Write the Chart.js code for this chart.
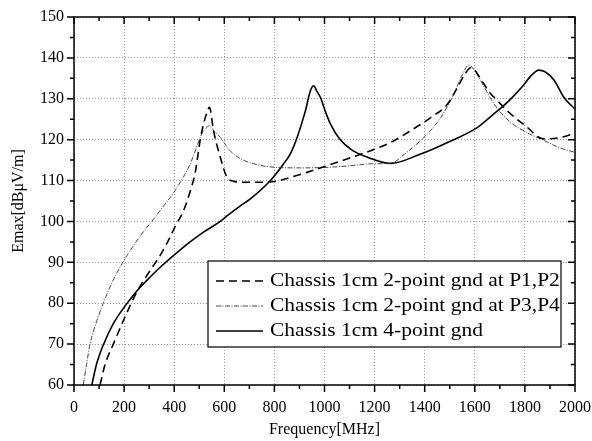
<!DOCTYPE html>
<html>
<head>
<meta charset="utf-8">
<script src="https://cdn.jsdelivr.net/npm/chart.js@4/dist/chart.umd.min.js"></script>
<style>
html,body{margin:0;padding:0;background:#fff;}
#wrap{width:592px;height:441px;position:relative;}
</style>
</head>
<body>
<div id="wrap"><canvas id="c" width="592" height="441"></canvas></div>
<script>
// ---- data ----
const seriesLabels = [
  "Chassis 1cm 2-point gnd at P1,P2",
  "Chassis 1cm 2-point gnd at P3,P4",
  "Chassis 1cm 4-point gnd"
];
const freqP12 = [104,124,157,204,251,304,344,384,404,437,464,484,504,517,530,541,557,584,611,640,664,757,820,864,930,1004,1100,1184,1264,1344,1424,1491,1531,1560,1584,1600,1624,1660,1691,1736,1800,1876,1940,2000];
const emaxP12 = [60,65,70,76.7,82.8,88,91.7,96.2,98.8,102.6,107.4,112,120,123.8,126.5,127.9,122.2,115.7,110.8,109.8,109.6,109.6,110,110.8,112,113.5,115.5,117.3,119.3,122.2,125.4,128.7,132.8,136,137.6,137,134.8,131.5,129.5,126.7,123.5,120.2,120.5,121.6];
const freqP34 = [37,50,64,90,117,150,197,271,304,354,404,464,511,530,541,560,584,617,660,718,811,904,1000,1100,1191,1264,1320,1384,1424,1464,1516,1551,1577,1600,1624,1676,1736,1800,1876,1940,2000];
const emaxP34 = [60,65,70,75.5,80,84.8,90.2,97,99.5,103.5,107.6,114.1,121.5,123,123.4,122,120.6,117.7,115.5,114.1,113.2,113.1,113.2,113.6,114.1,114.2,116.5,119.8,122.3,125.4,131.1,136,138.3,136.8,134.4,128.8,124.6,122,119.8,118,116.9];
const freq4pt = [71,91,117,157,211,251,291,344,417,470,520,584,612,664,704,784,837,864,891,924,944,957,970,984,1004,1024,1060,1104,1172,1264,1384,1476,1611,1676,1736,1790,1824,1856,1880,1916,1956,2000];
const emax4pt = [60,65.3,69.8,75,79.9,83,85.6,88.8,92.7,95.3,97.5,100,101.4,103.8,105.5,110,114.1,116.6,120.6,127.1,132,133.2,131.8,130.3,126.8,123.8,120.2,117.7,115.7,114.2,116.5,118.9,123,126.3,129.5,133,135.6,137,136.6,134.6,130.3,127.5];
const xTicks = [0,200,400,600,800,1000,1200,1400,1600,1800,2000];
const yTicks = [60,70,80,90,100,110,120,130,140,150];

const toPts = (xs, ys) => xs.map((x, i) => ({x: x, y: ys[i]}));
const FONT = "'Liberation Serif', 'DejaVu Serif', serif";

const frameTicks = {
  id: 'frameTicks',
  afterDatasetsDraw(chart) {
    const {ctx, chartArea: a, scales} = chart;
    const xs = scales.x, ys = scales.y;
    ctx.save();
    ctx.strokeStyle = '#000';
    ctx.lineWidth = 1.5;
    ctx.setLineDash([]);
    ctx.strokeRect(a.left, a.top, a.right - a.left, a.bottom - a.top);
    ctx.beginPath();
    for (let v = xs.min; v <= xs.max; v += 100) {
      const p = xs.getPixelForValue(v);
      const len = (v % 200 === 0) ? 7 : 4;
      ctx.moveTo(p, a.bottom); ctx.lineTo(p, a.bottom + len);
      ctx.moveTo(p, a.top); ctx.lineTo(p, a.top + len);
    }
    for (let v = ys.min; v <= ys.max; v += 5) {
      const p = ys.getPixelForValue(v);
      const len = (v % 10 === 0) ? 7 : 4;
      ctx.moveTo(a.left - len, p); ctx.lineTo(a.left, p);
      ctx.moveTo(a.right - len, p); ctx.lineTo(a.right, p);
    }
    ctx.stroke();
    ctx.restore();
  }
};

const boxLegend = {
  id: 'boxLegend',
  afterDraw(chart) {
    const {ctx, chartArea: a} = chart;
    const L = a.left + 134, R = a.right - 14, T = a.top + 244, B = a.top + 330;
    ctx.save();
    ctx.fillStyle = '#fff';
    ctx.fillRect(L, T, R - L, B - T);
    ctx.strokeStyle = '#000';
    ctx.lineWidth = 1.2;
    ctx.setLineDash([]);
    ctx.strokeRect(L, T, R - L, B - T);
    ctx.textBaseline = 'middle';
    ctx.fillStyle = '#000';
    chart.data.datasets.forEach((ds, i) => {
      const y = T + 20 + i * 25;
      ctx.beginPath();
      ctx.strokeStyle = ds.borderColor;
      ctx.lineWidth = ds.borderWidth;
      ctx.setLineDash(ds.borderDash || []);
      ctx.moveTo(L + 8, y); ctx.lineTo(L + 55, y);
      ctx.stroke();
      ctx.setLineDash([]);
      ctx.save();
      ctx.translate(L + 62, y);
      ctx.scale(1.13, 1);
      ctx.font = '19px ' + FONT;
      ctx.fillText(ds.label, 0, 0);
      ctx.restore();
    });
    ctx.restore();
  }
};

new Chart(document.getElementById('c'), {
  type: 'line',
  data: {
    datasets: [
      {label: seriesLabels[0], data: toPts(freqP12, emaxP12), borderColor: '#000', borderWidth: 1.6, borderDash: [8,5], pointRadius: 0, fill: false, cubicInterpolationMode: 'monotone'},
      {label: seriesLabels[1], data: toPts(freqP34, emaxP34), borderColor: '#333', borderWidth: 0.9, borderDash: [5,1.5,1,1.5], pointRadius: 0, fill: false, cubicInterpolationMode: 'monotone'},
      {label: seriesLabels[2], data: toPts(freq4pt, emax4pt), borderColor: '#000', borderWidth: 1.6, pointRadius: 0, fill: false, cubicInterpolationMode: 'monotone'}
    ]
  },
  options: {
    responsive: false,
    animation: false,
    layout: {padding: {left: 0, right: 17, top: 17, bottom: 0}},
    plugins: {legend: {display: false}, tooltip: {enabled: false}},
    scales: {
      x: {
        type: 'linear', min: 0, max: 2000,
        afterBuildTicks: s => { s.ticks = xTicks.map(v => ({value: v})); },
        afterFit: s => { s.height = 56; s.paddingLeft = 0; s.paddingRight = 0; },
        grid: {color: '#999', lineWidth: 1, drawTicks: false},
        border: {display: false, dash: [1,2]},
        ticks: {color: '#000', padding: 13, maxRotation: 0, font: {family: FONT, size: 16}, callback: v => String(v)},
        title: {display: true, text: 'Frequency[MHz]', color: '#000', font: {family: FONT, size: 16}, padding: {top: 0, bottom: 2}}
      },
      y: {
        type: 'linear', min: 60, max: 150,
        afterBuildTicks: s => { s.ticks = yTicks.map(v => ({value: v})); },
        afterFit: s => { s.width = 74; s.paddingTop = 0; s.paddingBottom = 0; },
        grid: {color: '#999', lineWidth: 1, drawTicks: false},
        border: {display: false, dash: [1,2]},
        ticks: {color: '#000', padding: 10, font: {family: FONT, size: 16}, callback: v => String(v)},
        title: {display: true, text: 'Emax[dBμV/m]', color: '#000', font: {family: FONT, size: 16}, padding: {top: 9, bottom: 0}}
      }
    }
  },
  plugins: [frameTicks, boxLegend]
});
</script>
</body>
</html>
